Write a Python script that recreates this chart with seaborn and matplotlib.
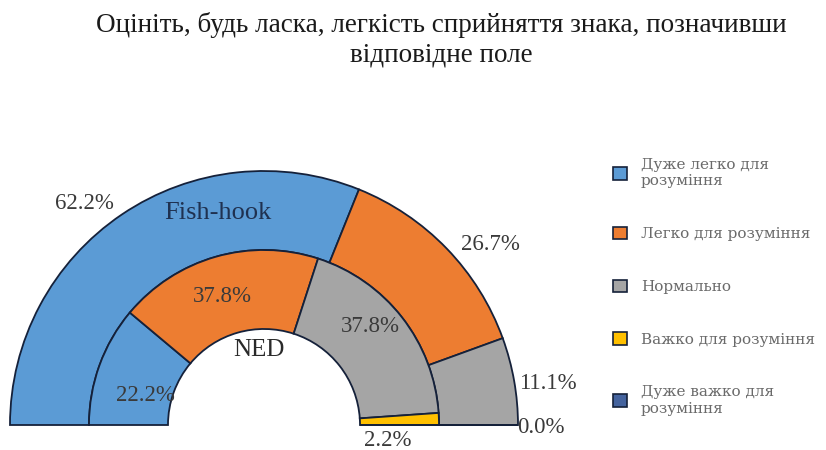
import matplotlib
matplotlib.use("Agg")
import matplotlib.pyplot as plt
from matplotlib.patches import Patch
import numpy as np
import seaborn as sns

# Answer categories (legend order) and the share of answers per sign, %
categories = [
    "Дуже легко для\nрозуміння",
    "Легко для розуміння",
    "Нормально",
    "Важко для розуміння",
    "Дуже важко для\nрозуміння",
]
fish_hook = [62.2, 26.7, 11.1, 0.0, 0.0]
ned = [22.2, 37.8, 37.8, 2.2, 0.0]
ring_names = ["Fish-hook", "NED"]
title = "Оцініть, будь ласка, легкість сприйняття знака, позначивши\nвідповідне поле"

sns.set_theme(style="white")
plt.rcParams["font.family"] = ["Liberation Serif", "DejaVu Serif"]
palette = sns.color_palette(["#5B9BD5", "#ED7D31", "#A5A5A5", "#FFC000", "#44639E"])
edge = "#15213a"
label_color = "#3a3a3a"

fig = plt.figure(figsize=(8.26, 4.5), dpi=100)
ax = fig.add_axes([10 / 826, 25 / 450, 508 / 826, 254 / 450])


def half_ring(values, radius, width):
    """Draw a half doughnut ring (left to right over the top)."""
    vals = list(values) + [sum(values)]
    cols = list(palette) + [(1, 1, 1, 0)]
    wedges, _ = ax.pie(
        vals, radius=radius, startangle=180, counterclock=False, colors=cols,
        wedgeprops=dict(width=width, edgecolor=edge, linewidth=1.3),
    )
    wedges[-1].set_visible(False)
    for w in wedges:
        w.set_clip_on(False)
    return wedges[:-1]


outer = half_ring(fish_hook, 1.0, 0.311)
inner = half_ring(ned, 0.689, 0.311)

# label placement: (angle shift from wedge middle in degrees, radius)
outer_place = [(5, 1.12), (-5.5, 1.14), (-1.6, 1.13), (-0.6, 1.09), None]
inner_place = [(6, 0.48), (2, 0.53), (5, 0.57), (-9, 0.49), None]


def put_labels(wedges, values, place):
    for w, v, p in zip(wedges, values, place):
        if p is None:
            continue
        mid = np.deg2rad((w.theta1 + w.theta2) / 2 + p[0])
        ax.text(p[1] * np.cos(mid), p[1] * np.sin(mid), f"{v:.1f}%",
                ha="center", va="center", fontsize=16.5, color=label_color)


put_labels(outer, fish_hook, outer_place)
put_labels(inner, ned, inner_place)

ax.text(-0.18, 0.835, ring_names[0], ha="center", va="center", fontsize=19, color="#1f3150")
ax.text(-0.02, 0.295, ring_names[1], ha="center", va="center", fontsize=18, color="#2a2a2a")

ax.set_xlim(-1, 1)
ax.set_ylim(0, 1)
ax.set_aspect("auto")
ax.axis("off")

fig.text(441 / 826, 1 - 12 / 450, title, ha="center", va="top", fontsize=19.5,
         linespacing=1.25, color="#1a1a1a")

handles = [Patch(facecolor=c, edgecolor=edge, linewidth=1.2) for c in palette]
leg = fig.legend(handles, categories, loc="upper left", bbox_to_anchor=(599 / 826, 1 - 144 / 450),
                 frameon=False, labelspacing=2.5, handlelength=0.9,
                 handleheight=0.9, handletextpad=0.95, labelcolor="#6a6a6a",
                 prop={"family": "DejaVu Serif", "size": 11})
for t in leg.get_texts():
    t.set_linespacing(1.25)

fig.savefig("out.png", dpi=100, facecolor="white")
